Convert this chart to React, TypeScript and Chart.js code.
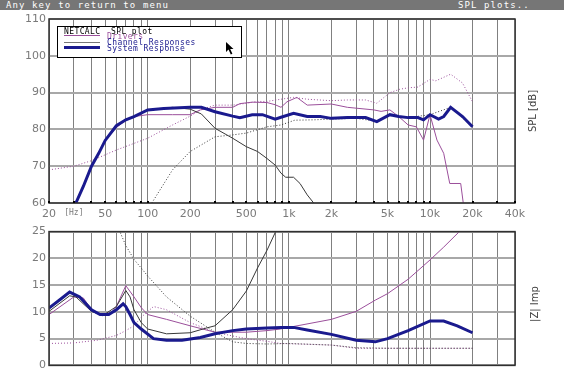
import React, { useEffect, useRef } from "react";
import { Chart, registerables } from "chart.js";
Chart.register(...registerables);

// ---------- axis / tick data ----------
const gridFreqs = [20, 30, 40, 50, 60, 70, 80, 90, 100, 200, 300, 400, 500, 600, 700, 800, 900, 1000, 2000, 3000, 4000, 5000, 6000, 7000, 8000, 9000, 10000, 20000, 30000, 40000];
const freqLabels: Record<number, string> = { 20: "20", 30: "[Hz]", 50: "50", 100: "100", 200: "200", 500: "500", 1000: "1k", 2000: "2k", 5000: "5k", 10000: "10k", 20000: "20k", 40000: "40k" };
const splTicks = [60, 70, 80, 90, 100, 110];
const impTicks = [0, 5, 10, 15, 20, 25];

// ---------- SPL data ----------
const sysSplFreq = [31, 35, 40, 45, 50, 60, 70, 80, 100, 130, 200, 240, 300, 400, 450, 550, 650, 800, 880, 1080, 1350, 1670, 2000, 2600, 3500, 4200, 5200, 6000, 7000, 8200, 9000, 10000, 11500, 12500, 14000, 17000, 20000];
const sysSpl = [60, 64.5, 70, 73.5, 77, 81, 82.6, 83.5, 85.3, 85.7, 86, 86, 84.8, 83.6, 83.2, 84, 84, 82.8, 83.3, 84.4, 83.5, 83.5, 83, 83.2, 83.2, 82.1, 84, 83.5, 83.2, 83.2, 82.6, 84, 82.8, 83.5, 86, 83.5, 80.7];

const wChSplFreq = [31, 40, 50, 60, 70, 80, 100, 150, 200, 240, 300, 400, 500, 600, 700, 800, 880, 950, 1080, 1200, 1350, 1500];
const wChSpl = [60, 70, 77, 81, 82.6, 83.5, 85.3, 86, 85.5, 84.2, 80.3, 77.6, 75.3, 74, 72.1, 70.3, 68.1, 67, 67, 65.3, 62.2, 60];

const tChSplFreq = [107, 150, 200, 300, 400, 500, 700, 880, 1100, 1500, 2000, 3000, 4200, 5200, 7000, 10000, 14000, 20000];
const tChSpl = [60, 69, 74, 78, 78.5, 79, 80.7, 81.2, 82.5, 82.6, 82.8, 83, 82.2, 83.8, 83.2, 84, 86, 80.7];

const wDrvSplFreq = [31, 40, 50, 60, 70, 80, 100, 150, 200, 236, 300, 400, 450, 550, 700, 800, 880, 970, 1140, 1350, 2000, 2600, 4000, 4500, 5200, 6000, 7000, 8000, 8600, 9000, 10000, 11200, 12500, 13800, 16500, 17200];
const wDrvSpl = [60, 70, 77, 80.5, 82.5, 83.5, 84, 84, 84, 85.3, 86, 86, 87, 87.4, 87.3, 86.7, 86, 87.5, 88.7, 86.6, 86.9, 86, 85.3, 84.9, 85.3, 83.5, 81.2, 80.7, 78.5, 77.1, 84, 77.1, 73.5, 65.3, 65.3, 60];

const tDrvSplFreq = [20, 30, 40, 60, 80, 100, 150, 200, 236, 300, 400, 500, 600, 700, 880, 1080, 1350, 2000, 2600, 3500, 4200, 5200, 6100, 7000, 8200, 10000, 11000, 14000, 17000, 20000];
const tDrvSpl = [69, 70, 71.5, 74.4, 76.2, 77.6, 81.2, 83.6, 85.3, 86.6, 86.6, 87.1, 87.6, 87.6, 88.2, 88.7, 88.2, 87.8, 88, 88, 87.1, 90, 90.9, 91.3, 91.5, 93.6, 93.2, 95, 92.6, 87.5];

// ---------- impedance data ----------
const sysImpFreq = [20, 24.5, 28, 33, 40, 46, 53, 60, 67, 70, 75, 80, 90, 110, 136, 175, 236, 300, 400, 500, 700, 880, 1080, 1350, 2000, 3000, 4100, 5000, 7000, 10000, 12500, 15600, 20000];
const sysImp = [10.7, 12.5, 13.7, 12.8, 10.4, 9.5, 9.5, 10.4, 11.5, 11, 9.5, 8, 6.8, 5, 4.7, 4.7, 5.2, 5.9, 6.5, 6.8, 7, 7.1, 7.1, 6.6, 5.8, 4.7, 4.4, 5, 6.5, 8.3, 8.3, 7.4, 6.1];

const wChImpFreq = [20, 28, 31, 40, 48, 60, 70, 75, 80, 90, 100, 136, 200, 262, 300, 400, 500, 600, 700, 800, 850];
const wChImp = [10.1, 13, 12.8, 10.1, 9.3, 11, 14, 12.8, 10.4, 8, 6.8, 5.9, 6.1, 7, 7.4, 10.4, 13.9, 18.2, 21.5, 24.8, 26.5];

const tChImpFreq = [64, 70, 80, 90, 100, 136, 200, 300, 400, 500, 700, 1000, 2000, 3000, 5000, 10000, 20000];
const tChImp = [24.8, 22.4, 19.8, 18.2, 16.7, 12.8, 9.2, 6.2, 4.4, 4.1, 4, 4.1, 3.8, 3.3, 3.2, 3.2, 3.2];

const wDrvImpFreq = [20, 30, 35, 40, 46, 55, 60, 70, 80, 90, 100, 136, 200, 300, 400, 500, 700, 870, 1000, 2000, 3000, 4100, 5000, 7000, 10000, 12500, 16000, 17000];
const wDrvImp = [9.5, 12.8, 12.6, 10.4, 9.5, 9.8, 11, 14.9, 12.8, 10.8, 9.5, 8.6, 7.4, 6.2, 6.2, 6.2, 6.5, 6.8, 7.1, 8.6, 10.1, 12.2, 13.4, 16.1, 19.7, 22.1, 24.9, 26];

const tDrvImpFreq = [20, 30, 44, 60, 70, 80, 90, 110, 136, 200, 300, 400, 500, 700, 870, 2000, 3000, 5000, 10000, 20000];
const tDrvImp = [4.1, 4.2, 4.7, 5.6, 6.5, 7.4, 9, 11, 10.4, 8, 6.2, 5.5, 5, 4.5, 4.1, 3.8, 3.2, 3.2, 3.2, 3.2];

// ---------- styles ----------
const NAVY = "#1a1a8e";
const MAG = "#9b4f9b";
const DARK = "#383838";
const TICK_COLOR = "#7a7a7a";
const FONT = "DejaVu Sans";
const MONO = "DejaVu Sans Mono";

const pts = (f: number[], v: number[]) => f.map((x, i) => ({ x, y: v[i] }));

function ds(label: string, data: any[], color: string, width: number, dotted: boolean) {
  return {
    label,
    data,
    borderColor: color,
    borderWidth: width,
    borderDash: dotted ? [1, 2] : [],
    pointRadius: 0,
    tension: 0,
    fill: false,
  };
}

function makePlugin(kind: "spl" | "imp") {
  return {
    id: "deco_" + kind,
    afterDraw(chart: any) {
      const { ctx, chartArea: a, scales } = chart;
      const xs = scales.x;
      ctx.save();
      // frame
      ctx.strokeStyle = "#303030";
      ctx.lineWidth = 1.5;
      ctx.strokeRect(a.left, a.top, a.right - a.left, a.bottom - a.top);
      if (kind === "spl") {
        // small squares on bottom border
        ctx.fillStyle = "#000";
        for (const f of gridFreqs) {
          const x = Math.round(xs.getPixelForValue(f));
          ctx.fillRect(x - 1, a.bottom - 2, 2, 2);
        }
        // legend box
        const bx = 57, by = 26, bw = 184, bh = 31;
        ctx.fillStyle = "#fff";
        ctx.fillRect(bx, by, bw, bh);
        ctx.strokeStyle = "#000";
        ctx.lineWidth = 1;
        ctx.strokeRect(bx + 0.5, by + 0.5, bw, bh);
        ctx.font = `8px "${MONO}"`;
        try { (ctx as any).letterSpacing = "0.4px"; } catch (e) {}
        ctx.textBaseline = "middle";
        ctx.textAlign = "left";
        ctx.fillStyle = "#000";
        ctx.fillText("NETCALC", 64, 31.5);
        ctx.fillText("SPL plot", 111, 31.5);
        // legend lines
        ctx.lineWidth = 1;
        ctx.strokeStyle = MAG;
        ctx.beginPath(); ctx.moveTo(64, 35.5); ctx.lineTo(100, 35.5); ctx.stroke();
        ctx.strokeStyle = "#777";
        ctx.beginPath(); ctx.moveTo(64, 42.5); ctx.lineTo(100, 42.5); ctx.stroke();
        ctx.strokeStyle = NAVY;
        ctx.lineWidth = 3;
        ctx.beginPath(); ctx.moveTo(64, 47.5); ctx.lineTo(100, 47.5); ctx.stroke();
        ctx.fillStyle = MAG;
        ctx.fillText("Drivers", 107, 37);
        ctx.fillStyle = NAVY;
        ctx.fillText("Channel Responses", 107, 42.5);
        ctx.fillText("System Response", 107, 48.5);
        try { (ctx as any).letterSpacing = "0px"; } catch (e) {}
        // mouse cursor
        ctx.fillStyle = "#000";
        ctx.beginPath();
        ctx.moveTo(226, 42);
        ctx.lineTo(226, 52);
        ctx.lineTo(228.5, 49.5);
        ctx.lineTo(230.8, 54.5);
        ctx.lineTo(232.4, 53.8);
        ctx.lineTo(230.2, 49);
        ctx.lineTo(233.5, 49);
        ctx.closePath();
        ctx.fill();
      }
      // side label
      ctx.save();
      ctx.fillStyle = "#404040";
      ctx.font = `10px "${FONT}"`;
      ctx.textAlign = "center";
      ctx.textBaseline = "middle";
      if (kind === "spl") {
        ctx.translate(533, 111);
      } else {
        ctx.translate(535, 304 - 222);
      }
      ctx.rotate(-Math.PI / 2);
      ctx.fillText(kind === "spl" ? "SPL [dB]" : "|Z| Imp", 0, 0);
      ctx.restore();
      ctx.restore();
    },
  };
}

function baseOptions(kind: "spl" | "imp") {
  const isSpl = kind === "spl";
  return {
    animation: false,
    responsive: false,
    events: [],
    layout: { padding: isSpl ? { top: 19, right: 49, left: 0, bottom: 0 } : { top: 7, right: 49, left: 0, bottom: 7 } },
    plugins: { legend: { display: false }, tooltip: { enabled: false } },
    scales: {
      x: {
        type: "logarithmic",
        min: 20,
        max: 40000,
        afterBuildTicks: (s: any) => { s.ticks = gridFreqs.map((v) => ({ value: v })); },
        afterFit: (s: any) => { s.height = isSpl ? 19 : 0; },
        grid: { color: "#808080", lineWidth: 1, drawTicks: false },
        border: { display: false },
        ticks: {
          display: isSpl,
          autoSkip: false,
          maxRotation: 0,
          minRotation: 0,
          padding: 5,
          color: TICK_COLOR,
          font: (c: any) => (c.tick && c.tick.value === 30 ? { family: MONO, size: 8 } : { family: FONT, size: 11 }),
          callback: (v: any) => freqLabels[v as number] ?? "",
        },
      },
      y: {
        min: isSpl ? 60 : 0,
        max: isSpl ? 110 : 25,
        afterBuildTicks: (s: any) => { s.ticks = (isSpl ? splTicks : impTicks).map((v) => ({ value: v })); },
        afterFit: (s: any) => { s.width = 49; },
        grid: { color: "#a8a8a8", lineWidth: 2, drawTicks: false },
        border: { display: false },
        ticks: { color: TICK_COLOR, padding: 3, font: { family: FONT, size: 11 } },
      },
    },
  };
}

function useChart(ref: React.RefObject<HTMLCanvasElement>, kind: "spl" | "imp", datasets: any[]) {
  useEffect(() => {
    if (!ref.current) return;
    const chart = new Chart(ref.current, {
      type: "line",
      data: { datasets },
      options: baseOptions(kind) as any,
      plugins: [makePlugin(kind)],
    });
    return () => chart.destroy();
  }, []);
}

export default function App() {
  const topRef = useRef<HTMLCanvasElement>(null);
  const botRef = useRef<HTMLCanvasElement>(null);

  useChart(topRef, "spl", [
    ds("System Response", pts(sysSplFreq, sysSpl), NAVY, 3, false),
    ds("Woofer Channel", pts(wChSplFreq, wChSpl), DARK, 1, false),
    ds("Tweeter Channel", pts(tChSplFreq, tChSpl), DARK, 1, true),
    ds("Woofer Driver", pts(wDrvSplFreq, wDrvSpl), MAG, 1, false),
    ds("Tweeter Driver", pts(tDrvSplFreq, tDrvSpl), MAG, 1, true),
  ]);
  useChart(botRef, "imp", [
    ds("System Impedance", pts(sysImpFreq, sysImp), NAVY, 3, false),
    ds("Woofer Channel", pts(wChImpFreq, wChImp), DARK, 1, false),
    ds("Tweeter Channel", pts(tChImpFreq, tChImp), DARK, 1, true),
    ds("Woofer Driver", pts(wDrvImpFreq, wDrvImp), MAG, 1, false),
    ds("Tweeter Driver", pts(tDrvImpFreq, tDrvImp), MAG, 1, true),
  ]);

  return (
    <div style={{ position: "fixed", left: 0, top: 0, width: 564, height: 375, background: "#fff", overflow: "hidden" }}>
      <div
        style={{
          position: "absolute", left: 0, top: 0, width: 564, height: 10,
          background: "#767676", color: "#fff", fontFamily: MONO, fontSize: 9, lineHeight: "10px",
          letterSpacing: "1.1px", whiteSpace: "pre",
        }}
      >
        <span style={{ position: "absolute", left: 6, top: 0 }}>Any key to return to menu</span>
        <span style={{ position: "absolute", left: 458, top: 0 }}>SPL plots..</span>
      </div>
      <canvas ref={topRef} width={564} height={222} style={{ position: "absolute", left: 0, top: 0, display: "block" }} />
      <canvas ref={botRef} width={564} height={153} style={{ position: "absolute", left: 0, top: 222, display: "block" }} />
    </div>
  );
}
